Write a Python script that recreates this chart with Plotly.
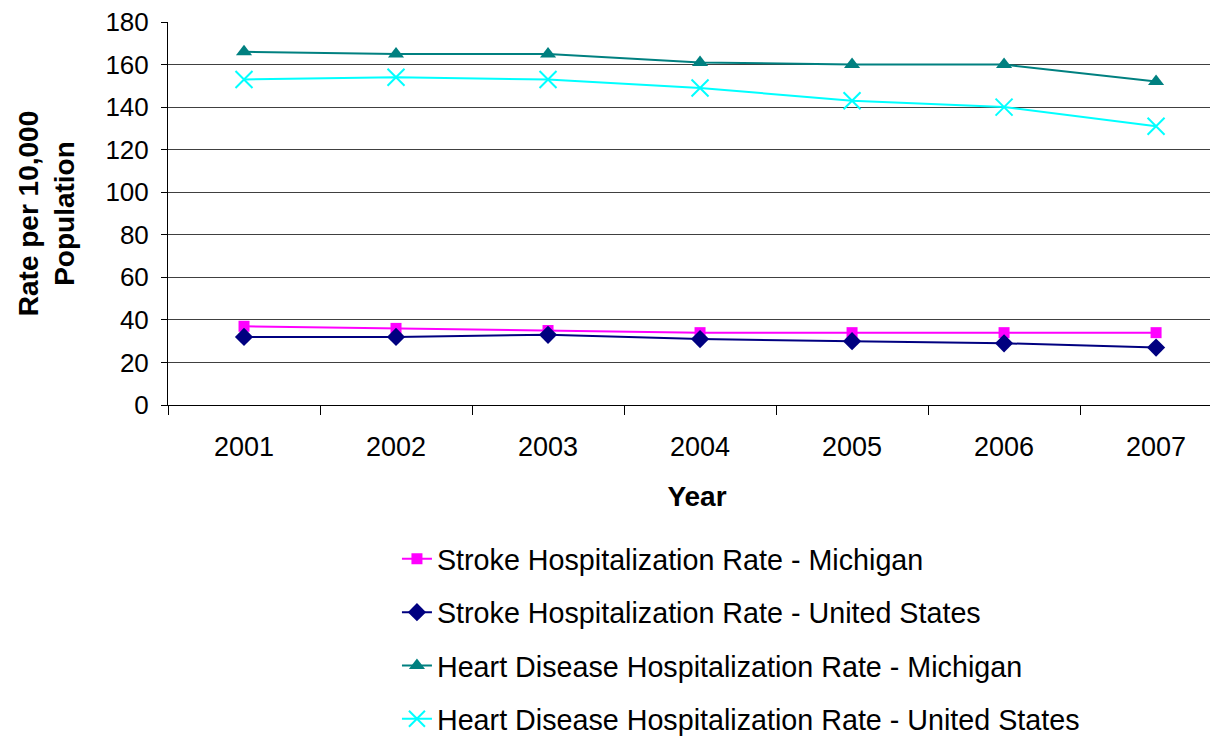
import plotly.graph_objects as go

years = ['2001', '2002', '2003', '2004', '2005', '2006', '2007']
stroke_mi = [37, 36, 35, 34, 34, 34, 34]
stroke_us = [32, 32, 33, 31, 30, 29, 27]
heart_mi = [166, 165, 165, 161, 160, 160, 152]
heart_us = [153, 154, 153, 149, 143, 140, 131]

series = [
    ('Stroke Hospitalization Rate - Michigan', stroke_mi, '#FF00FF', 'square', 11, 0),
    ('Stroke Hospitalization Rate - United States', stroke_us, '#000080', 'diamond', 14, 0),
    ('Heart Disease Hospitalization Rate - Michigan', heart_mi, '#008080', 'triangle-up', 14, 0),
    ('Heart Disease Hospitalization Rate - United States', heart_us, '#00FFFF', 'x-thin', 17, 2),
]

fig = go.Figure()
for i, (name, vals, color, symbol, size, mlw) in enumerate(series):
    fig.add_trace(go.Scatter(
        x=years, y=vals, name=name, mode='lines+markers',
        legendgroup=str(i),
        line=dict(color=color, width=2),
        marker=dict(symbol=symbol, size=size, color=color,
                    line=dict(color=color, width=mlw)),
    ))

# the page body adds an 8px offset, so margins are 8px smaller than the picture
font = 'Liberation Sans, Arial, sans-serif'
fig.update_layout(
    width=1218, height=737,
    margin=dict(l=160, r=0, t=14, b=333),
    paper_bgcolor='white', plot_bgcolor='white',
    font=dict(family=font, size=26, color='black'),
    showlegend=True,
    legend=dict(x=0.2164, y=-0.336, xanchor='left', yanchor='top',
                traceorder='grouped', tracegroupgap=13,
                font=dict(size=28.7), bgcolor='rgba(0,0,0,0)'),
)
fig.update_xaxes(
    type='category', range=[-0.5, 6.46], automargin=False,
    showline=True, linecolor='black', linewidth=1,
    ticks='outside', tickson='boundaries', ticklen=9, tickcolor='black',
    ticklabelstandoff=18, tickfont=dict(size=27),
    showgrid=False,
    title=dict(text='<b>Year</b>', font=dict(size=28), standoff=24),
)
fig.update_yaxes(
    range=[0, 180], dtick=20, automargin=False,
    showline=True, linecolor='black', linewidth=1,
    ticks='outside', ticklen=6, tickcolor='black',
    ticklabelstandoff=7, tickfont=dict(size=26), ticklabeloverflow='allow',
    showgrid=True, gridcolor='#404040', gridwidth=1,
    zeroline=False,
    title=dict(text='<b>Rate per 10,000<br>Population</b>', font=dict(size=28), standoff=22),
)

fig.write_html("out.html")
